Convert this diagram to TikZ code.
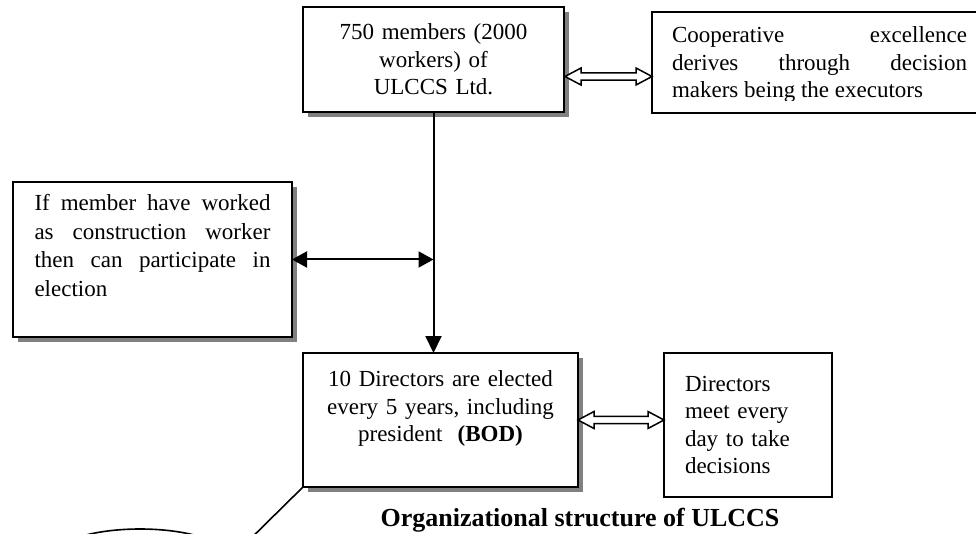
\documentclass[tikz,border=0pt]{standalone}
\usepackage{fontspec}
\setmainfont{Liberation Serif}
\usetikzlibrary{arrows.meta,shapes.geometric,shadows}
\newcommand{\hollowarrow}[2]{\draw[hollow] (#1) -- ([xshift=16pt,yshift=8.5pt]#1) -- ([xshift=16pt,yshift=3.7pt]#1) -- ([xshift=-16pt,yshift=3.7pt]#2) -- ([xshift=-16pt,yshift=8.5pt]#2) -- (#2) -- ([xshift=-16pt,yshift=-8.5pt]#2) -- ([xshift=-16pt,yshift=-3.7pt]#2) -- ([xshift=16pt,yshift=-3.7pt]#1) -- ([xshift=16pt,yshift=-8.5pt]#1) -- cycle;}

\begin{document}
\begin{tikzpicture}[x=1pt,y=-1pt,every node/.style={outer sep=0pt, font=\fontsize{23}{27.5}\selectfont},
  box/.style={draw, line width=2pt, fill=white, drop shadow={shadow xshift=5pt, shadow yshift=-5pt, fill=black!50, opacity=1}},
  plainbox/.style={draw, line width=2pt, fill=white},
  link/.style={line width=2pt},
  hollow/.style={line width=1.5pt, fill=white, line join=miter}]
\useasboundingbox (0,0) rectangle (976,534);
\node[box, minimum width=261pt, minimum height=105pt, text width=231pt, align=center] (members) at (433.5,59.5) {750 members (2000\\ workers) of\\ ULCCS Ltd.};
\node[plainbox, minimum width=335pt, minimum height=101pt] (excel) at (819.5,62.5) {};
\begin{scope}
\clip (excel.north west) rectangle (990,101);
\node[text width=295pt, align=justify, inner sep=0pt] (exceltext) at (819.5,65) {Cooperative excellence\linebreak derives through decision\linebreak makers being the executors};
\end{scope}
\node[box, minimum width=279pt, minimum height=155pt, text width=236pt, align=justify, font=\fontsize{23}{28.5}\selectfont] (elect) at (152.5,259.5) {If member have worked\linebreak as construction worker\linebreak then can participate in\linebreak election\\ \mbox{}};
\node[box, minimum width=275pt, minimum height=134pt, text width=250pt, align=center] (bod) at (440.5,420) {10 Directors are elected\\ every 5 years, including\\ president\ \ \textbf{(BOD)}\\ \mbox{}};
\node[plainbox, minimum width=168pt, minimum height=144pt, text width=126pt, align=left] (meet) at (748,425) {Directors\\ meet every\\ day to take\\ decisions};
\node[font=\fontsize{26}{30}\selectfont\bfseries, anchor=base] (title) at (580,526) {Organizational structure of ULCCS};
\node[draw, ellipse, line width=1.6pt, minimum width=180pt, minimum height=60pt] (circ) at (140,559) {};
\coordinate (tap) at (members.south |- elect.east);
\coordinate (m1) at ([xshift=1pt,yshift=-17pt]members.east);
\coordinate (m2) at (m1 -| excel.west);
\coordinate (b1) at (bod.east);
\coordinate (b2) at (bod.east -| meet.west);
\draw[link, -{Triangle[length=17pt,width=16pt]}] (members.south) -- (members.south |- bod.north);
\draw[link, {Triangle[length=15pt,width=16pt]}-{Triangle[length=15pt,width=16pt]}] (elect.east) -- (tap);
\hollowarrow{m1}{m2}
\hollowarrow{b1}{b2}
\draw[link, line width=1.6pt] (bod.south west) -- (circ.east);
\end{tikzpicture}
\end{document}
